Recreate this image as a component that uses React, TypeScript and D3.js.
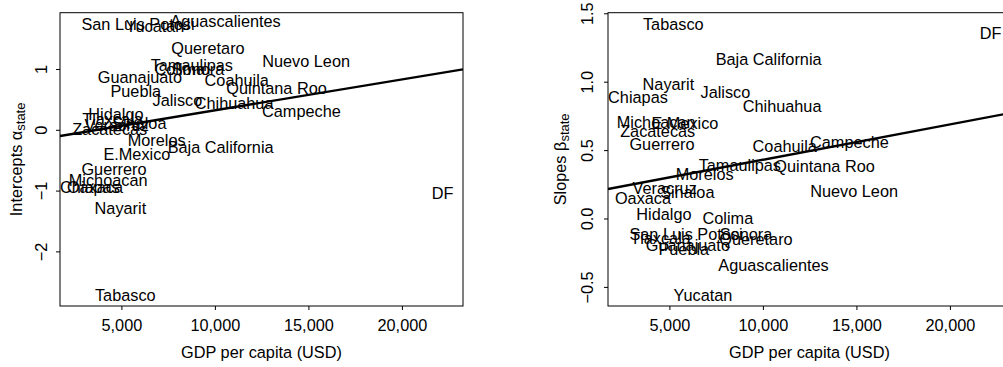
import React from 'react';
import * as d3 from 'd3';

// state-level estimates against GDP per capita
const states = [
  "San Luis Potosi", "Yucatan", "Aguascalientes", "Queretaro", "Tamaulipas",
  "Colima", "Sonora", "Nuevo Leon", "Guanajuato", "Coahuila",
  "Quintana Roo", "Puebla", "Jalisco", "Chihuahua", "Campeche",
  "Hidalgo", "Tlaxcala", "Veracruz", "Sinaloa", "Zacatecas",
  "Morelos", "Baja California", "E.Mexico", "Guerrero", "Michoacan",
  "Chiapas", "Oaxaca", "Nayarit", "Tabasco", "DF",
];
const gdp = [
  5860, 6770, 10540, 9604, 8740,
  8100, 9069, 14850, 5960, 11140,
  13270, 5743, 7970, 11000, 14600,
  4680, 4500, 4720, 5930, 4347,
  6860, 10280, 5800, 4577, 4265,
  3294, 3561, 4920, 5180, 22155,
];
const intercepts = [
  1.745, 1.713, 1.79, 1.349, 1.062,
  1.008, 1.01, 1.128, 0.872, 0.816,
  0.69, 0.646, 0.498, 0.449, 0.306,
  0.268, 0.186, 0.087, 0.109, 0.01,
  -0.16, -0.28, -0.39, -0.637, -0.83,
  -0.94, -0.93, -1.283, -2.72, -1.043,
];
const slopes = [
  -0.113, -0.561, -0.336, -0.146, 0.39,
  0.005, -0.11, 0.2, -0.19, 0.531,
  0.382, -0.219, 0.926, 0.821, 0.558,
  0.034, -0.139, 0.224, 0.195, 0.641,
  0.329, 1.167, 0.702, 0.546, 0.71,
  0.887, 0.148, 0.985, 1.423, 1.355,
];

const xTicks = [5000, 10000, 15000, 20000];
const interceptTicks = [-2, -1, 0, 1];
const slopeTicks = [-0.5, 0, 0.5, 1, 1.5];
// fitted line: [intercept, slope per USD]
const interceptFit = [-0.18, 0.0000509];
const slopeFit = [0.175, 0.00002585];

const xDomain = [1690, 23240];
const font = "'Liberation Sans', Arial, sans-serif";
const fs = 16.3;

function Panel({ left, values, yDomain, yTicks, yFmt, fit, ylab, greek, ylabX, tickX, id }) {
  const top = 12.7, bottom = 306, width = 403;
  const x = d3.scaleLinear().domain(xDomain).range([left, left + width]);
  const y = d3.scaleLinear().domain(yDomain).range([bottom, top]);
  const fitLine = d3.line<number>().x(d => x(d)).y(d => y(fit[0] + fit[1] * d));

  return (
    <g fontFamily={font} fontSize={fs} fill="#000">
      <clipPath id={id}>
        <rect x={left} y={top} width={width} height={bottom - top} />
      </clipPath>
      <rect x={left} y={top} width={width} height={bottom - top} fill="none" stroke="#000" strokeWidth={1} />

      {/* x axis */}
      {xTicks.map(t => (
        <g key={t}>
          <line x1={x(t)} x2={x(t)} y1={bottom} y2={bottom + 4} stroke="#000" />
          <text x={x(t)} y={325} dy="0.35em" textAnchor="middle">{d3.format(",")(t)}</text>
        </g>
      ))}
      <text x={left + width / 2} y={352} dy="0.35em" textAnchor="middle">GDP per capita (USD)</text>

      {/* y axis */}
      {yTicks.map(t => (
        <g key={t}>
          <line x1={left - 4} x2={left} y1={y(t)} y2={y(t)} stroke="#000" />
          <text transform={`translate(${tickX},${y(t)}) rotate(-90)`} dy="0.35em" textAnchor="middle">{yFmt(t)}</text>
        </g>
      ))}
      <text transform={`translate(${ylabX},${(top + bottom) / 2}) rotate(-90)`} dy="0.35em" textAnchor="middle">
        {ylab}{greek}<tspan fontSize={13} dy={3}>state</tspan>
      </text>

      {/* state labels */}
      {states.map((s, i) => (
        <text key={s} x={x(gdp[i])} y={y(values[i])} dy="0.35em" textAnchor="middle">{s}</text>
      ))}

      <path d={fitLine(xDomain) || ""} clipPath={`url(#${id})`} fill="none" stroke="#000" strokeWidth={2.4} />
    </g>
  );
}

export default function App() {
  return (
    <svg width={1003} height={367} style={{ position: 'absolute', left: 0, top: 0, background: '#fff' }}>
      <rect width={1003} height={367} fill="#fff" />
      <Panel id="clipA" left={60} values={intercepts} yDomain={[-2.89, 1.934]} yTicks={interceptTicks}
        yFmt={d3.format("d")} fit={interceptFit} ylab="Intercepts " greek="α" ylabX={16} tickX={41.5} />
      <Panel id="clipB" left={608} values={slopes} yDomain={[-0.636, 1.508]} yTicks={slopeTicks}
        yFmt={d3.format(".1f")} fit={slopeFit} ylab="Slopes " greek="β" ylabX={560} tickX={587} />
    </svg>
  );
}
